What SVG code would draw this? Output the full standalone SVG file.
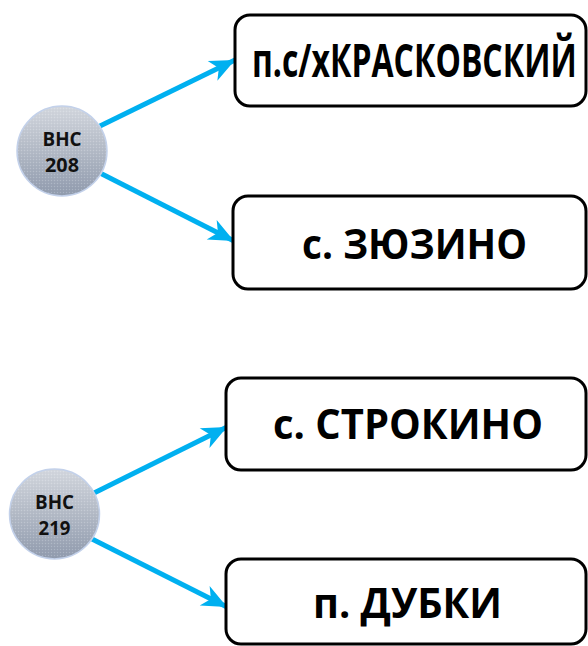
<svg xmlns="http://www.w3.org/2000/svg" width="588" height="646" viewBox="0 0 588 646">
  <style>
    .box { fill: #ffffff; stroke: #000000; stroke-width: 3; }
    .lbl { font-family: "Open Sans", "Liberation Sans", sans-serif; font-weight: 700; fill: #000000; }
    .big { font-size: 42px; }
    .hub { fill: url(#hubGrad); stroke: #c3d1ea; stroke-width: 1.5; }
    .hubtex { fill: url(#dots); }
    .hubtxt { font-family: "Open Sans", "Liberation Sans", sans-serif; font-weight: 700; font-size: 19px; fill: #111111; }
    .conn { stroke: #00b0f0; stroke-width: 5; fill: none; marker-end: url(#arr); }
  </style>
  <defs>
    <linearGradient id="hubGrad" x1="0" y1="0" x2="0" y2="1">
      <stop offset="0" stop-color="#d4d8df"/>
      <stop offset="0.5" stop-color="#b4bbc7"/>
      <stop offset="1" stop-color="#919caf"/>
    </linearGradient>
    <pattern id="dots" width="3" height="3" patternUnits="userSpaceOnUse">
      <rect x="0" y="0" width="1" height="1" fill="#ffffff" fill-opacity="0.2"/>
      <rect x="1.5" y="1.5" width="1" height="1" fill="#000000" fill-opacity="0.06"/>
    </pattern>
    <marker id="arr" markerUnits="userSpaceOnUse" markerWidth="30" markerHeight="30" viewBox="-28 -14 30 28" refX="0" refY="0" orient="auto">
      <path d="M0,0 L-25,-11 L-18,0 L-25,11 Z" fill="#00b0f0"/>
    </marker>
  </defs>

  <g id="connectors">
    <line class="conn" x1="100" y1="126" x2="235" y2="60"/>
    <line class="conn" x1="100" y1="173" x2="234" y2="241"/>
    <line class="conn" x1="92" y1="494" x2="227" y2="427"/>
    <line class="conn" x1="92" y1="539" x2="227" y2="607"/>
  </g>

  <g id="hub208">
    <circle class="hub" cx="62" cy="151" r="45"/>
    <circle class="hubtex" cx="62" cy="151" r="44"/>
    <text class="hubtxt" x="62" y="146" text-anchor="middle" textLength="39" lengthAdjust="spacingAndGlyphs">ВНС</text>
    <text class="hubtxt" x="62" y="172" text-anchor="middle" textLength="34" lengthAdjust="spacingAndGlyphs">208</text>
  </g>

  <g id="hub219">
    <circle class="hub" cx="54.5" cy="514" r="45"/>
    <circle class="hubtex" cx="54.5" cy="514" r="44"/>
    <text class="hubtxt" x="54.5" y="509" text-anchor="middle" textLength="39" lengthAdjust="spacingAndGlyphs">ВНС</text>
    <text class="hubtxt" x="54.5" y="535" text-anchor="middle" textLength="32" lengthAdjust="spacingAndGlyphs">219</text>
  </g>

  <g id="node-kraskovsky">
    <rect class="box" x="235" y="15" width="351" height="91" rx="15"/>
    <text class="lbl" transform="translate(252,77) scale(0.7,1)" x="0" y="0" font-size="46" textLength="464" lengthAdjust="spacingAndGlyphs">п.с/хКРАСКОВСКИЙ</text>
  </g>

  <g id="node-zyuzino">
    <rect class="box" x="233" y="196" width="353" height="93" rx="15"/>
    <text class="lbl big" x="302" y="259" textLength="225" lengthAdjust="spacingAndGlyphs">с. ЗЮЗИНО</text>
  </g>

  <g id="node-strokino">
    <rect class="box" x="226" y="378" width="360" height="92" rx="15"/>
    <text class="lbl big" x="273" y="439" textLength="270" lengthAdjust="spacingAndGlyphs">с. СТРОКИНО</text>
  </g>

  <g id="node-dubki">
    <rect class="box" x="226" y="559" width="360" height="85" rx="15"/>
    <text class="lbl big" x="313" y="618" textLength="189" lengthAdjust="spacingAndGlyphs">п. ДУБКИ</text>
  </g>
</svg>
